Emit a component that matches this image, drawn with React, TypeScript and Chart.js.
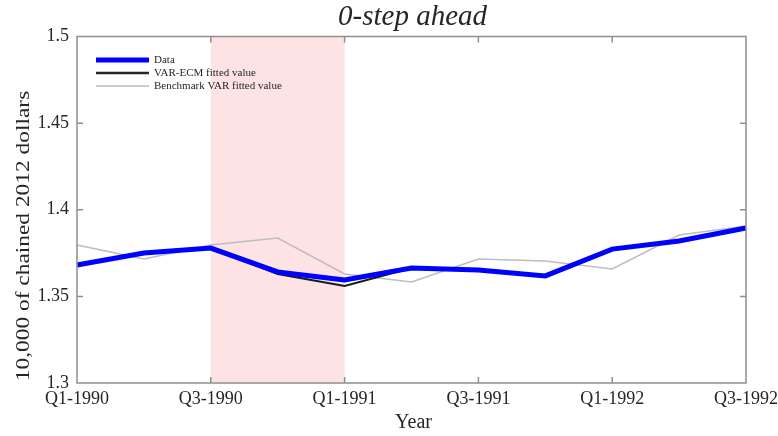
import React, { useEffect, useRef } from "react";
import { Chart, registerables } from "chart.js";

Chart.register(...registerables);

// Quarterly categories along the x axis
const quarters = [
  "Q1-1990", "Q2-1990", "Q3-1990", "Q4-1990",
  "Q1-1991", "Q2-1991", "Q3-1991", "Q4-1991",
  "Q1-1992", "Q2-1992", "Q3-1992",
];
const xTickLabels = ["Q1-1990", "Q3-1990", "Q1-1991", "Q3-1991", "Q1-1992", "Q3-1992"];
const yTicks = [1.3, 1.35, 1.4, 1.45, 1.5];

// Series (10,000 of chained 2012 dollars)
const actualData = [1.3681, 1.375, 1.3779, 1.3641, 1.3595, 1.3664, 1.3652, 1.3618, 1.3773, 1.382, 1.3895];
const varEcmFitted = [null, null, 1.3779, 1.3629, 1.356, 1.3664, null, null, null, null, null];
const benchmarkFitted = [1.3797, 1.3716, 1.3797, 1.3837, 1.3629, 1.3583, 1.3716, 1.3704, 1.3658, 1.3854, 1.3906];

// Recession band
const recession = ["Q3-1990", "Q1-1991"];

const FONT = "'Liberation Serif', 'Times New Roman', serif";
const AXIS_COLOR = "#8f8f8f";
const TEXT_COLOR = "#262626";

const legendItems = [
  { label: "Data", color: "#0000ff", width: 5 },
  { label: "VAR-ECM fitted value", color: "#262626", width: 2.5 },
  { label: "Benchmark VAR fitted value", color: "#bdbdbd", width: 1.5 },
];

const decorPlugin = {
  id: "decor",
  beforeDatasetsDraw(chart: any) {
    const { ctx, chartArea, scales } = chart;
    const x0 = scales.x.getPixelForValue(quarters.indexOf(recession[0]));
    const x1 = scales.x.getPixelForValue(quarters.indexOf(recession[1]));
    ctx.save();
    ctx.fillStyle = "#fde3e4";
    ctx.fillRect(x0, chartArea.top, x1 - x0, chartArea.bottom - chartArea.top);
    ctx.restore();
  },
  afterDatasetsDraw(chart: any) {
    const { ctx, chartArea, scales } = chart;
    const { left, right, top, bottom } = chartArea;
    const tl = 6;
    ctx.save();
    ctx.strokeStyle = AXIS_COLOR;
    ctx.lineWidth = 1.5;
    ctx.beginPath();
    ctx.rect(left, top, right - left, bottom - top);
    // inward ticks on all four sides
    xTickLabels.forEach((q) => {
      const x = scales.x.getPixelForValue(quarters.indexOf(q));
      ctx.moveTo(x, bottom);
      ctx.lineTo(x, bottom - tl);
      ctx.moveTo(x, top);
      ctx.lineTo(x, top + tl);
    });
    yTicks.forEach((v) => {
      const y = scales.y.getPixelForValue(v);
      ctx.moveTo(left, y);
      ctx.lineTo(left + tl, y);
      ctx.moveTo(right, y);
      ctx.lineTo(right - tl, y);
    });
    ctx.stroke();

    // legend
    const lx0 = 96;
    const lx1 = 149;
    let ly = 60;
    ctx.font = `11px ${FONT}`;
    ctx.textBaseline = "middle";
    ctx.textAlign = "left";
    legendItems.forEach((it) => {
      ctx.strokeStyle = it.color;
      ctx.lineWidth = it.width;
      ctx.beginPath();
      ctx.moveTo(lx0, ly);
      ctx.lineTo(lx1, ly);
      ctx.stroke();
      ctx.fillStyle = TEXT_COLOR;
      ctx.fillText(it.label, 154, ly + 0.5);
      ly += 13;
    });

    // title and axis titles
    ctx.fillStyle = TEXT_COLOR;
    ctx.textAlign = "center";
    ctx.font = `italic 29px ${FONT}`;
    ctx.fillText("0-step ahead", (left + right) / 2 + 1, 17);
    ctx.font = `20px ${FONT}`;
    ctx.fillText("Year", (left + right) / 2 + 2, 423);
    ctx.translate(24, 236);
    ctx.rotate(-Math.PI / 2);
    ctx.scale(1.3, 1);
    ctx.font = `18px ${FONT}`;
    ctx.fillText("10,000 of chained 2012 dollars", 0, 0);
    ctx.restore();
  },
};

export default function App() {
  const ref = useRef<HTMLCanvasElement | null>(null);

  useEffect(() => {
    if (!ref.current) return;
    const chart = new Chart(ref.current, {
      type: "line",
      data: {
        labels: quarters,
        datasets: [
          {
            label: "Data",
            data: actualData,
            borderColor: "#0000ff",
            borderWidth: 5,
            pointRadius: 0,
            tension: 0,
          },
          {
            label: "VAR-ECM fitted value",
            data: varEcmFitted,
            borderColor: "#1a1a1a",
            borderWidth: 2,
            pointRadius: 0,
            tension: 0,
          },
          {
            label: "Benchmark VAR fitted value",
            data: benchmarkFitted,
            borderColor: "#bdbdbd",
            borderWidth: 1.5,
            pointRadius: 0,
            tension: 0,
          },
        ],
      },
      options: {
        animation: false,
        responsive: false,
        maintainAspectRatio: false,
        layout: { padding: { left: 0, right: 32, top: 36.5, bottom: 0 } },
        plugins: {
          legend: { display: false },
          title: { display: false },
          tooltip: { enabled: false },
        },
        scales: {
          x: {
            type: "category",
            offset: false,
            grid: { display: false, drawTicks: false },
            border: { display: false },
            ticks: {
              autoSkip: false,
              maxRotation: 0,
              minRotation: 0,
              padding: 5,
              color: TEXT_COLOR,
              font: { family: FONT, size: 18 },
              callback: (_v: any, i: number) =>
                xTickLabels.includes(quarters[i]) ? quarters[i] : "",
            },
            afterFit: (s: any) => {
              s.height = 53;
              s.paddingLeft = 0;
              s.paddingRight = 0;
            },
          },
          y: {
            min: 1.3,
            max: 1.5,
            grid: { display: false, drawTicks: false },
            border: { display: false },
            afterBuildTicks: (s: any) => {
              s.ticks = yTicks.map((v) => ({ value: v }));
            },
            ticks: {
              padding: 8,
              color: TEXT_COLOR,
              font: { family: FONT, size: 18 },
              callback: (v: any) => String(v),
            },
            afterFit: (s: any) => {
              s.width = 77;
              s.paddingTop = 0;
              s.paddingBottom = 0;
            },
          },
        },
      },
      plugins: [decorPlugin],
    });
    return () => chart.destroy();
  }, []);

  return (
    <div style={{ position: "fixed", left: 0, top: 0, width: 778, height: 436, background: "#fff" }}>
      <canvas ref={ref} width={778} height={436} style={{ width: 778, height: 436 }} />
    </div>
  );
}
